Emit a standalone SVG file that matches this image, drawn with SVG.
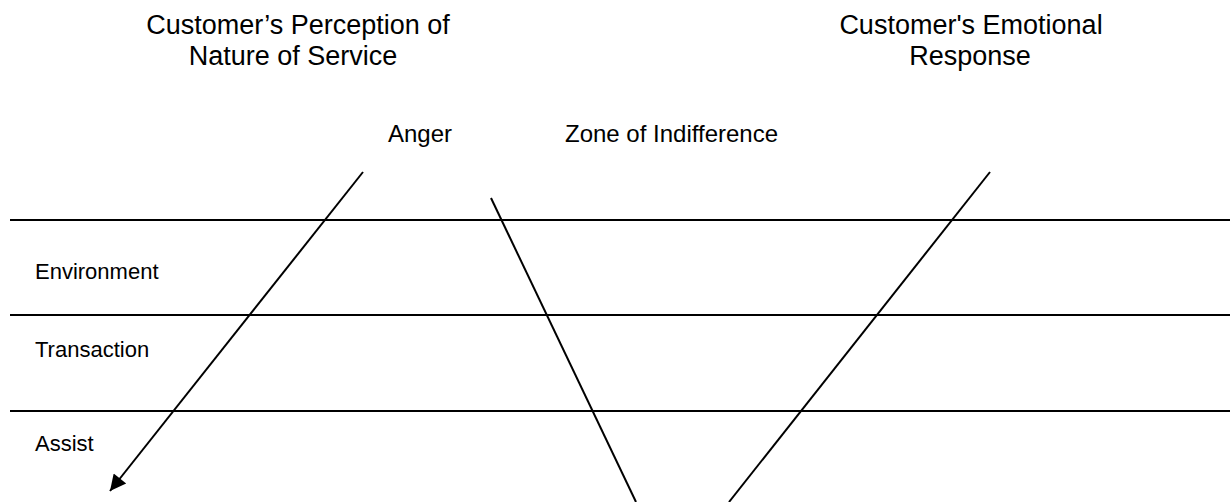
<svg xmlns="http://www.w3.org/2000/svg" width="1230" height="502" viewBox="0 0 1230 502">
<style>
text{font-family:"Liberation Sans",Arial,sans-serif;fill:#000}
.t{font-size:27px;text-anchor:middle}
.m{font-size:24px}
.b{font-size:22px}
.h{stroke:#000;stroke-width:2;fill:none}
.d{stroke:#000;stroke-width:2;fill:none}
</style>
<defs>
<marker id="ah" markerWidth="18" markerHeight="16" refX="10" refY="5" orient="auto" markerUnits="userSpaceOnUse" viewBox="0 0 10 10">
<path d="M0,0 L10,5 L0,10 Z" fill="#000"/>
</marker>
</defs>
<rect width="1230" height="502" fill="#fff"/>
<g id="title-perception">
<text class="t" x="298" y="34">Customer’s Perception of</text>
<text class="t" x="293" y="65">Nature of Service</text>
</g>
<g id="title-emotional">
<text class="t" x="971" y="34">Customer's Emotional</text>
<text class="t" x="970" y="65">Response</text>
</g>
<g id="label-anger"><text class="m" x="388" y="142">Anger</text></g>
<g id="label-zone"><text class="m" x="565" y="142">Zone of Indifference</text></g>
<g id="band-environment"><text class="b" x="35" y="279">Environment</text></g>
<g id="band-transaction"><text class="b" x="35" y="357">Transaction</text></g>
<g id="band-assist"><text class="b" x="35" y="451">Assist</text></g>
<g id="bands">
<line class="h" x1="10" y1="220" x2="1230" y2="220"/>
<line class="h" x1="10" y1="315" x2="1230" y2="315"/>
<line class="h" x1="10" y1="411" x2="1230" y2="411"/>
</g>
<g id="connectors">
<line class="d" x1="363" y1="172" x2="110" y2="491" marker-end="url(#ah)"/>
<line class="d" x1="491" y1="198" x2="636" y2="502"/>
<line class="d" x1="990" y1="172" x2="729" y2="502"/>
</g>
</svg>
